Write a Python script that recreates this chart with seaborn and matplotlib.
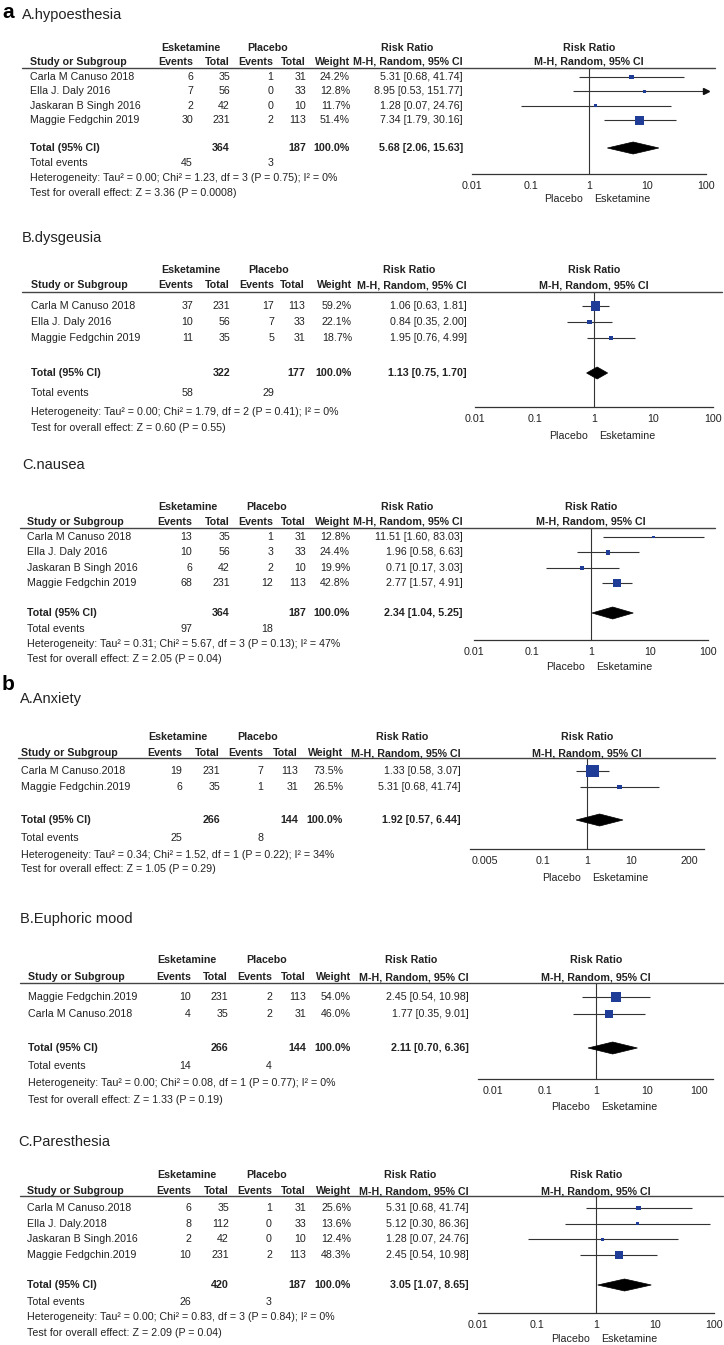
import math

import matplotlib.pyplot as plt
import pandas as pd
import seaborn as sns
from matplotlib.lines import Line2D
from matplotlib.patches import Polygon
from matplotlib.ticker import NullLocator
from matplotlib.transforms import Affine2D

W, H = 724, 1345
BLUE = "#1f3c96"
INK = "#222222"
FS = 7.7

# ---- a / A.hypoesthesia
HYPO_STUDIES = ["Carla M Canuso 2018", "Ella J. Daly 2016",
                "Jaskaran B Singh 2016", "Maggie Fedgchin 2019"]
HYPO_ESK_EVENTS = [6, 7, 2, 30]
HYPO_ESK_TOTAL = [35, 56, 42, 231]
HYPO_PLA_EVENTS = [1, 0, 0, 2]
HYPO_PLA_TOTAL = [31, 33, 10, 113]
HYPO_WEIGHT = [24.2, 12.8, 11.7, 51.4]
HYPO_RR = [5.31, 8.95, 1.28, 7.34]
HYPO_LO = [0.68, 0.53, 0.07, 1.79]
HYPO_HI = [41.74, 151.77, 24.76, 30.16]
HYPO_TOTAL_RR = [5.68, 2.06, 15.63]
HYPO_HET = "Heterogeneity: Tau\u00b2 = 0.00; Chi\u00b2 = 1.23, df = 3 (P = 0.75); I\u00b2 = 0%"
HYPO_TEST = "Test for overall effect: Z = 3.36 (P = 0.0008)"

# ---- a / B.dysgeusia
DYSG_STUDIES = ["Carla M Canuso 2018", "Ella J. Daly 2016", "Maggie Fedgchin 2019"]
DYSG_ESK_EVENTS = [37, 10, 11]
DYSG_ESK_TOTAL = [231, 56, 35]
DYSG_PLA_EVENTS = [17, 7, 5]
DYSG_PLA_TOTAL = [113, 33, 31]
DYSG_WEIGHT = [59.2, 22.1, 18.7]
DYSG_RR = [1.06, 0.84, 1.95]
DYSG_LO = [0.63, 0.35, 0.76]
DYSG_HI = [1.81, 2.00, 4.99]
DYSG_TOTAL_RR = [1.13, 0.75, 1.70]
DYSG_HET = "Heterogeneity: Tau\u00b2 = 0.00; Chi\u00b2 = 1.79, df = 2 (P = 0.41); I\u00b2 = 0%"
DYSG_TEST = "Test for overall effect: Z = 0.60 (P = 0.55)"

# ---- a / C.nausea
NAUS_STUDIES = ["Carla M Canuso 2018", "Ella J. Daly 2016",
                "Jaskaran B Singh 2016", "Maggie Fedgchin 2019"]
NAUS_ESK_EVENTS = [13, 10, 6, 68]
NAUS_ESK_TOTAL = [35, 56, 42, 231]
NAUS_PLA_EVENTS = [1, 3, 2, 12]
NAUS_PLA_TOTAL = [31, 33, 10, 113]
NAUS_WEIGHT = [12.8, 24.4, 19.9, 42.8]
NAUS_RR = [11.51, 1.96, 0.71, 2.77]
NAUS_LO = [1.60, 0.58, 0.17, 1.57]
NAUS_HI = [83.03, 6.63, 3.03, 4.91]
NAUS_TOTAL_RR = [2.34, 1.04, 5.25]
NAUS_HET = "Heterogeneity: Tau\u00b2 = 0.31; Chi\u00b2 = 5.67, df = 3 (P = 0.13); I\u00b2 = 47%"
NAUS_TEST = "Test for overall effect: Z = 2.05 (P = 0.04)"

# ---- b / A.Anxiety
ANX_STUDIES = ["Carla M Canuso.2018", "Maggie Fedgchin.2019"]
ANX_ESK_EVENTS = [19, 6]
ANX_ESK_TOTAL = [231, 35]
ANX_PLA_EVENTS = [7, 1]
ANX_PLA_TOTAL = [113, 31]
ANX_WEIGHT = [73.5, 26.5]
ANX_RR = [1.33, 5.31]
ANX_LO = [0.58, 0.68]
ANX_HI = [3.07, 41.74]
ANX_TOTAL_RR = [1.92, 0.57, 6.44]
ANX_HET = "Heterogeneity: Tau\u00b2 = 0.34; Chi\u00b2 = 1.52, df = 1 (P = 0.22); I\u00b2 = 34%"
ANX_TEST = "Test for overall effect: Z = 1.05 (P = 0.29)"

# ---- b / B.Euphoric mood
EUPH_STUDIES = ["Maggie Fedgchin.2019", "Carla M Canuso.2018"]
EUPH_ESK_EVENTS = [10, 4]
EUPH_ESK_TOTAL = [231, 35]
EUPH_PLA_EVENTS = [2, 2]
EUPH_PLA_TOTAL = [113, 31]
EUPH_WEIGHT = [54.0, 46.0]
EUPH_RR = [2.45, 1.77]
EUPH_LO = [0.54, 0.35]
EUPH_HI = [10.98, 9.01]
EUPH_TOTAL_RR = [2.11, 0.70, 6.36]
EUPH_HET = "Heterogeneity: Tau\u00b2 = 0.00; Chi\u00b2 = 0.08, df = 1 (P = 0.77); I\u00b2 = 0%"
EUPH_TEST = "Test for overall effect: Z = 1.33 (P = 0.19)"

# ---- b / C.Paresthesia
PARE_STUDIES = ["Carla M Canuso.2018", "Ella J. Daly.2018",
                "Jaskaran B Singh.2016", "Maggie Fedgchin.2019"]
PARE_ESK_EVENTS = [6, 8, 2, 10]
PARE_ESK_TOTAL = [35, 112, 42, 231]
PARE_PLA_EVENTS = [1, 0, 0, 2]
PARE_PLA_TOTAL = [31, 33, 10, 113]
PARE_WEIGHT = [25.6, 13.6, 12.4, 48.3]
PARE_RR = [5.31, 5.12, 1.28, 2.45]
PARE_LO = [0.68, 0.30, 0.07, 0.54]
PARE_HI = [41.74, 86.36, 24.76, 10.98]
PARE_TOTAL_RR = [3.05, 1.07, 8.65]
PARE_HET = "Heterogeneity: Tau\u00b2 = 0.00; Chi\u00b2 = 0.83, df = 3 (P = 0.84); I\u00b2 = 0%"
PARE_TEST = "Test for overall effect: Z = 2.09 (P = 0.04)"

TICKS_STD = [0.01, 0.1, 1, 10, 100]
TICKLABELS_STD = ["0.01", "0.1", "1", "10", "100"]
TICKS_ANX = [0.005, 0.1, 1, 10, 200]
TICKLABELS_ANX = ["0.005", "0.1", "1", "10", "200"]


def make_data(title, studies, ee, et, pe, pt, w, rr, lo, hi, tot, het, test):
    df = pd.DataFrame({"study": studies, "esk_ev": ee, "esk_tot": et,
                       "pla_ev": pe, "pla_tot": pt, "weight": w,
                       "rr": rr, "lo": lo, "hi": hi})
    return {"title": title, "df": df, "total": tot, "het": het, "test": test}


# layout in pixels of the 724x1345 canvas
LAYOUTS = [
    dict(letter="a", letter_y=12, title_x=22, title_y=15, head1=48, head2=62,
         rule=68, rule_x=(22, 715), y0=77, dy=14.4, total=148, events=163,
         het=178, test=193, cols=[30, 193, 230, 273, 306, 350, 463],
         esk_c=191, pla_c=268, rr_c=407, x1=589, dec=58.5, axis_y=174,
         xlim=(0.01, 100), ticks=TICKS_STD, ticklabels=TICKLABELS_STD, pe_y=199),
    dict(title_x=22, title_y=238, head1=270, head2=285, rule=292,
         rule_x=(22, 722), y0=306, dy=16, total=373, events=393, het=412,
         test=428, cols=[31, 193, 230, 274, 305, 352, 467], esk_c=191,
         pla_c=269, rr_c=409, x1=594, dec=59.3, axis_y=407, xlim=(0.01, 100),
         ticks=TICKS_STD, ticklabels=TICKLABELS_STD, pe_y=436),
    dict(title_x=22, title_y=465, head1=507, head2=522, rule=528,
         rule_x=(20, 715), y0=537, dy=15.3, total=613, events=629, het=644,
         test=659, cols=[27, 192, 230, 273, 306, 350, 463], esk_c=188,
         pla_c=267, rr_c=407, x1=591, dec=58.7, axis_y=640, xlim=(0.01, 100),
         ticks=TICKS_STD, ticklabels=TICKLABELS_STD, pe_y=667),
    dict(letter="b", letter_y=685, title_x=20, title_y=699, head1=737,
         head2=753, rule=758, rule_x=(18, 715), y0=771, dy=16, total=820,
         events=838, het=855, test=869, cols=[21, 182, 220, 263, 298, 343, 461],
         esk_c=178, pla_c=258, rr_c=402, x1=587, dec=44.5, axis_y=849,
         xlim=(0.0023, 430), ticks=TICKS_ANX, ticklabels=TICKLABELS_ANX, pe_y=878),
    dict(title_x=20, title_y=919, head1=960, head2=977, rule=983,
         rule_x=(20, 723), y0=997, dy=17, total=1048, events=1066, het=1083,
         test=1100, cols=[28, 191, 228, 272, 306, 351, 469], esk_c=187,
         pla_c=267, rr_c=411, x1=596, dec=51.5, axis_y=1079,
         xlim=(0.0051, 190), ticks=TICKS_STD, ticklabels=TICKLABELS_STD, pe_y=1107),
    dict(title_x=18, title_y=1142, head1=1175, head2=1191, rule=1196,
         rule_x=(20, 723), y0=1208, dy=15.6, total=1285, events=1302,
         het=1317, test=1333, cols=[27, 191, 229, 272, 306, 351, 469],
         esk_c=187, pla_c=267, rr_c=410, x1=596, dec=59, axis_y=1313,
         xlim=(0.01, 100), ticks=TICKS_STD, ticklabels=TICKLABELS_STD, pe_y=1339),
]


def draw_panel(fig, px, d, lay):
    df = d["df"]
    c = lay["cols"]

    def txt(x, y, s, **kw):
        kw.setdefault("fontsize", FS)
        kw.setdefault("color", INK)
        fig.text(x, y, s, transform=px, va="center", **kw)

    if "letter" in lay:
        txt(2, lay["letter_y"], lay["letter"], fontsize=15,
            fontweight="bold", color="black")
    txt(lay["title_x"], lay["title_y"], d["title"], fontsize=10.5)

    # header
    h1, h2 = lay["head1"], lay["head2"]
    txt(lay["esk_c"], h1, "Esketamine", ha="center", fontweight="bold")
    txt(lay["pla_c"], h1, "Placebo", ha="center", fontweight="bold")
    txt(lay["rr_c"], h1, "Risk Ratio", ha="center", fontweight="bold")
    txt(lay["x1"], h1, "Risk Ratio", ha="center", fontweight="bold")
    txt(c[0], h2, "Study or Subgroup", fontweight="bold")
    for x, s in zip(c[1:6], ["Events", "Total", "Events", "Total", "Weight"]):
        txt(x, h2, s, ha="right", fontweight="bold")
    txt(c[6], h2, "M-H, Random, 95% CI", ha="right", fontweight="bold")
    txt(lay["x1"], h2, "M-H, Random, 95% CI", ha="center", fontweight="bold")
    fig.add_artist(Line2D(list(lay["rule_x"]), [lay["rule"]] * 2,
                          transform=px, color="#444444", lw=1))

    # study rows
    ys = [lay["y0"] + i * lay["dy"] for i in range(len(df))]
    for y, row in zip(ys, df.itertuples()):
        txt(c[0], y, row.study)
        txt(c[1], y, str(row.esk_ev), ha="right")
        txt(c[2], y, str(row.esk_tot), ha="right")
        txt(c[3], y, str(row.pla_ev), ha="right")
        txt(c[4], y, str(row.pla_tot), ha="right")
        txt(c[5], y, f"{row.weight:.1f}%", ha="right")
        txt(c[6], y, f"{row.rr:.2f} [{row.lo:.2f}, {row.hi:.2f}]", ha="right")

    est, tlo, thi = d["total"]
    yt = lay["total"]
    txt(c[0], yt, "Total (95% CI)", fontweight="bold")
    txt(c[2], yt, str(df["esk_tot"].sum()), ha="right", fontweight="bold")
    txt(c[4], yt, str(df["pla_tot"].sum()), ha="right", fontweight="bold")
    txt(c[5], yt, "100.0%", ha="right", fontweight="bold")
    txt(c[6], yt, f"{est:.2f} [{tlo:.2f}, {thi:.2f}]", ha="right",
        fontweight="bold")
    txt(c[0], lay["events"], "Total events")
    txt(c[1], lay["events"], str(df["esk_ev"].sum()), ha="right")
    txt(c[3], lay["events"], str(df["pla_ev"].sum()), ha="right")
    txt(c[0], lay["het"], d["het"])
    txt(c[0], lay["test"], d["test"])

    # forest axes, x in risk ratio (log), y in canvas pixels
    x1, dec = lay["x1"], lay["dec"]
    xl = x1 + dec * math.log10(lay["xlim"][0])
    xr = x1 + dec * math.log10(lay["xlim"][1])
    ax = fig.add_axes([xl / W, 1 - lay["axis_y"] / H, (xr - xl) / W,
                       (lay["axis_y"] - lay["rule"]) / H])
    ax.set_xscale("log")
    ax.set_xlim(*lay["xlim"])
    ax.set_ylim(lay["axis_y"], lay["rule"])
    ax.patch.set_alpha(0)
    for s in ["top", "left", "right"]:
        ax.spines[s].set_visible(False)
    ax.spines["bottom"].set_color("#333333")
    ax.spines["bottom"].set_linewidth(0.9)
    ax.set_yticks([])
    ax.set_xticks(lay["ticks"])
    ax.set_xticklabels(lay["ticklabels"], fontsize=FS, color=INK)
    ax.xaxis.set_minor_locator(NullLocator())
    ax.tick_params(axis="x", direction="inout", length=7, width=0.9,
                   color="#333333", pad=1.5)

    ax.axvline(1, color="#333333", lw=0.8, zorder=1)
    ax.hlines(ys, df["lo"], df["hi"], color="#333333", lw=0.8, zorder=2)
    xmax = lay["xlim"][1]
    for y, hi in zip(ys, df["hi"]):
        if hi > xmax:
            ax.plot([xmax], [y], marker=">", ms=4.5, color="#111111",
                    clip_on=False, zorder=3)
    side = (1 + 0.15 * df["weight"]) * 0.72
    pts = pd.DataFrame({"rr": df["rr"], "y": ys})
    sns.scatterplot(data=pts, x="rr", y="y", s=side ** 2, marker="s",
                    color=BLUE, linewidth=0, ax=ax, legend=False, zorder=4)
    ax.set_xlabel("")
    ax.set_ylabel("")
    hh = 6
    ax.add_patch(Polygon([(tlo, yt), (est, yt - hh), (thi, yt), (est, yt + hh)],
                         closed=True, facecolor="black", edgecolor="black",
                         lw=0.5, zorder=4))

    txt(x1 - 6, lay["pe_y"], "Placebo", ha="right")
    txt(x1 + 5, lay["pe_y"], "Esketamine", ha="left")


def main():
    sns.set_style("white")
    plt.rcParams["font.family"] = ["Liberation Sans", "DejaVu Sans"]
    fig = plt.figure(figsize=(W / 100, H / 100), dpi=100)
    px = Affine2D().scale(1 / W, -1 / H).translate(0, 1) + fig.transFigure

    panels = [
        make_data("A.hypoesthesia", HYPO_STUDIES, HYPO_ESK_EVENTS, HYPO_ESK_TOTAL,
                  HYPO_PLA_EVENTS, HYPO_PLA_TOTAL, HYPO_WEIGHT, HYPO_RR, HYPO_LO,
                  HYPO_HI, HYPO_TOTAL_RR, HYPO_HET, HYPO_TEST),
        make_data("B.dysgeusia", DYSG_STUDIES, DYSG_ESK_EVENTS, DYSG_ESK_TOTAL,
                  DYSG_PLA_EVENTS, DYSG_PLA_TOTAL, DYSG_WEIGHT, DYSG_RR, DYSG_LO,
                  DYSG_HI, DYSG_TOTAL_RR, DYSG_HET, DYSG_TEST),
        make_data("C.nausea", NAUS_STUDIES, NAUS_ESK_EVENTS, NAUS_ESK_TOTAL,
                  NAUS_PLA_EVENTS, NAUS_PLA_TOTAL, NAUS_WEIGHT, NAUS_RR, NAUS_LO,
                  NAUS_HI, NAUS_TOTAL_RR, NAUS_HET, NAUS_TEST),
        make_data("A.Anxiety", ANX_STUDIES, ANX_ESK_EVENTS, ANX_ESK_TOTAL,
                  ANX_PLA_EVENTS, ANX_PLA_TOTAL, ANX_WEIGHT, ANX_RR, ANX_LO,
                  ANX_HI, ANX_TOTAL_RR, ANX_HET, ANX_TEST),
        make_data("B.Euphoric mood", EUPH_STUDIES, EUPH_ESK_EVENTS, EUPH_ESK_TOTAL,
                  EUPH_PLA_EVENTS, EUPH_PLA_TOTAL, EUPH_WEIGHT, EUPH_RR, EUPH_LO,
                  EUPH_HI, EUPH_TOTAL_RR, EUPH_HET, EUPH_TEST),
        make_data("C.Paresthesia", PARE_STUDIES, PARE_ESK_EVENTS, PARE_ESK_TOTAL,
                  PARE_PLA_EVENTS, PARE_PLA_TOTAL, PARE_WEIGHT, PARE_RR, PARE_LO,
                  PARE_HI, PARE_TOTAL_RR, PARE_HET, PARE_TEST),
    ]
    for d, lay in zip(panels, LAYOUTS):
        draw_panel(fig, px, d, lay)

    fig.savefig("out.png", dpi=100, facecolor="white")


if __name__ == "__main__":
    main()
